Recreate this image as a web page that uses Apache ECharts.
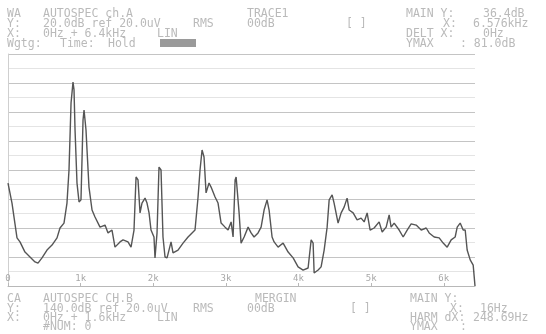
<!DOCTYPE html>
<html>
<head>
<meta charset="utf-8">
<title>AUTOSPEC ch.A</title>
<script src="https://cdn.jsdelivr.net/npm/echarts@6/dist/echarts.min.js"></script>
<style>
  html, body { margin: 0; padding: 0; background: #fff; }
  #chart { width: 546px; height: 334px; }
</style>
</head>
<body>
<div id="chart"></div>
<script>
// spectrum trace (Hz / dB)
const freqHz = [
  0, 55, 124, 165, 234, 303, 372, 413, 468, 537, 606, 675, 716, 771, 812, 840, 868, 895, 909, 923,
  950, 978, 1005, 1033, 1047, 1074, 1088, 1115, 1157, 1198, 1267, 1336, 1377, 1432, 1473, 1542, 1584, 1652, 1694, 1735,
  1763, 1790, 1818, 1845, 1887, 1914, 1942, 1969, 2010, 2024, 2052, 2079, 2107, 2134, 2162, 2190, 2245, 2272, 2341, 2410,
  2479, 2534, 2575, 2617, 2644, 2672, 2699, 2727, 2768, 2796, 2851, 2892, 2934, 2989, 3030, 3072, 3099, 3127, 3141, 3182,
  3209, 3251, 3306, 3347, 3388, 3443, 3485, 3526, 3567, 3595, 3636, 3664, 3719, 3788, 3857, 3926, 3994, 4063, 4132, 4174,
  4201, 4215, 4270, 4311, 4353, 4394, 4422, 4463, 4490, 4545, 4587, 4628, 4669, 4697, 4752, 4807, 4862, 4904, 4945, 4986,
  5041, 5110, 5152, 5207, 5248, 5275, 5317, 5386, 5441, 5496, 5551, 5620, 5689, 5758, 5799, 5868, 5937, 5992, 6047, 6102,
  6157, 6185, 6226, 6267, 6295, 6322, 6364, 6405, 6430
];
const levelDb = [
  35.5, 28.6, 16.6, 15.2, 11.7, 10.0, 8.3, 7.9, 9.7, 12.4, 14.1, 16.6, 20.0, 21.7, 28.6, 40.0, 63.1, 70.3, 67.6, 53.8,
  35.5, 29.0, 29.7, 57.2, 60.7, 53.8, 46.9, 34.1, 26.2, 23.8, 20.3, 21.0, 18.3, 19.3, 13.4, 15.2, 15.9, 15.2, 13.4, 19.3,
  37.6, 36.6, 25.2, 28.6, 30.3, 28.6, 25.2, 19.3, 16.9, 9.7, 18.3, 41.0, 40.0, 16.9, 10.0, 9.7, 15.2, 11.4, 12.4, 14.8,
  16.9, 18.3, 19.3, 30.7, 40.0, 46.9, 44.5, 32.1, 35.5, 34.1, 30.7, 28.6, 21.7, 20.3, 19.3, 22.1, 16.9, 36.6, 37.6, 25.2,
  14.8, 16.9, 20.3, 18.3, 16.9, 18.3, 20.3, 26.2, 29.7, 26.2, 16.9, 15.2, 13.4, 14.8, 11.7, 9.7, 6.6, 5.5, 6.2, 15.9,
  14.8, 4.5, 5.5, 6.6, 12.4, 20.3, 29.7, 31.4, 28.6, 21.7, 25.2, 27.2, 30.3, 26.2, 25.2, 22.8, 23.4, 22.1, 25.2, 19.3,
  20.0, 22.1, 18.6, 20.3, 24.5, 20.3, 21.7, 19.3, 16.9, 19.3, 21.4, 21.0, 19.3, 20.0, 18.3, 16.9, 16.6, 14.8, 13.4, 15.9,
  16.9, 20.3, 21.7, 19.3, 19.3, 12.4, 9.0, 7.2, 0
];
const xTicks = ['0', '1k', '2k', '3k', '4k', '5k', '6k'];

const topRows = [
  // [x, y, text]
  [7, 13, 'WA'], [43, 13, 'AUTOSPEC ch.A'], [247, 13, 'TRACE1'], [406, 13, 'MAIN Y:'], [483, 13, '36.4dB'],
  [7, 23, 'Y:'], [43, 23, '20.0dB ref 20.0uV'], [193, 23, 'RMS'], [247, 23, '00dB'], [346, 23, '[ ]'],
  [443, 23, 'X:'], [473, 23, '6.576kHz'],
  [7, 33, 'X:'], [43, 33, '0Hz + 6.4kHz'], [157, 33, 'LIN'], [406, 33, 'DELT X:'], [483, 33, '0Hz'],
  [7, 43, 'Wgtg:'], [60, 43, 'Time:'], [108, 43, 'Hold'], [406, 43, 'YMAX'], [460, 43, ': 81.0dB']
];
const bottomRows = [
  [7, 298, 'CA'], [43, 298, 'AUTOSPEC CH.B'], [255, 298, 'MERGIN'], [410, 298, 'MAIN Y:'],
  [7, 308, 'Y:'], [43, 308, '140.0dB ref 20.0uV'], [193, 308, 'RMS'], [247, 308, '00dB'], [350, 308, '[ ]'],
  [450, 308, 'X:'], [480, 308, '16Hz'],
  [7, 317, 'X:'], [43, 317, '0Hz + 1.6kHz'], [157, 317, 'LIN'], [410, 317, 'HARM dX:'], [473, 317, '248.69Hz'],
  [43, 326, '#NUM: 0'], [410, 326, 'YMAX'], [460, 326, ':']
];

const chart = echarts.init(document.getElementById('chart'));

const textEls = topRows.concat(bottomRows).map((r) => ({
  type: 'text',
  left: r[0],
  top: r[1] - 5,
  style: {
    text: r[2],
    fill: '#bababa',
    font: '11.5px "DejaVu Sans Mono"'
  }
}));
textEls.push({
  type: 'rect',
  shape: { x: 160, y: 39, width: 36, height: 8 },
  style: { fill: '#9a9a9a' }
});

chart.setOption({
  animation: false,
  backgroundColor: '#fff',
  grid: { left: 8, right: 71, top: 54, bottom: 48 },
  xAxis: {
    type: 'value',
    min: 0,
    max: 6430,
    interval: 1000,
    axisLine: { show: true, lineStyle: { color: '#b8b8b8', width: 1 } },
    axisTick: { show: true, inside: true, length: 3, lineStyle: { color: '#b8b8b8' } },
    axisLabel: {
      inside: true,
      margin: 3,
      color: '#a8a8a8',
      fontSize: 9,
      fontFamily: 'DejaVu Sans Mono',
      showMaxLabel: false,
      formatter: (v) => xTicks[Math.round(v / 1000)] || ''
    },
    splitLine: { show: false }
  },
  yAxis: {
    type: 'value',
    min: 0,
    max: 80,
    interval: 10,
    axisLine: { show: true, lineStyle: { color: '#cfcfcf' } },
    axisTick: { show: false },
    axisLabel: { show: false },
    splitLine: { show: true, lineStyle: { color: '#c4c4c4', width: 1 } },
    minorTick: { show: false, splitNumber: 2 },
    minorSplitLine: { show: true, lineStyle: { color: '#e4e4e4', width: 1 } }
  },
  series: [{
    type: 'line',
    data: freqHz.map((f, i) => [f, levelDb[i]]),
    showSymbol: false,
    lineStyle: { color: '#555', width: 1.4 },
    clip: false
  }],
  graphic: textEls
});
</script>
</body>
</html>
